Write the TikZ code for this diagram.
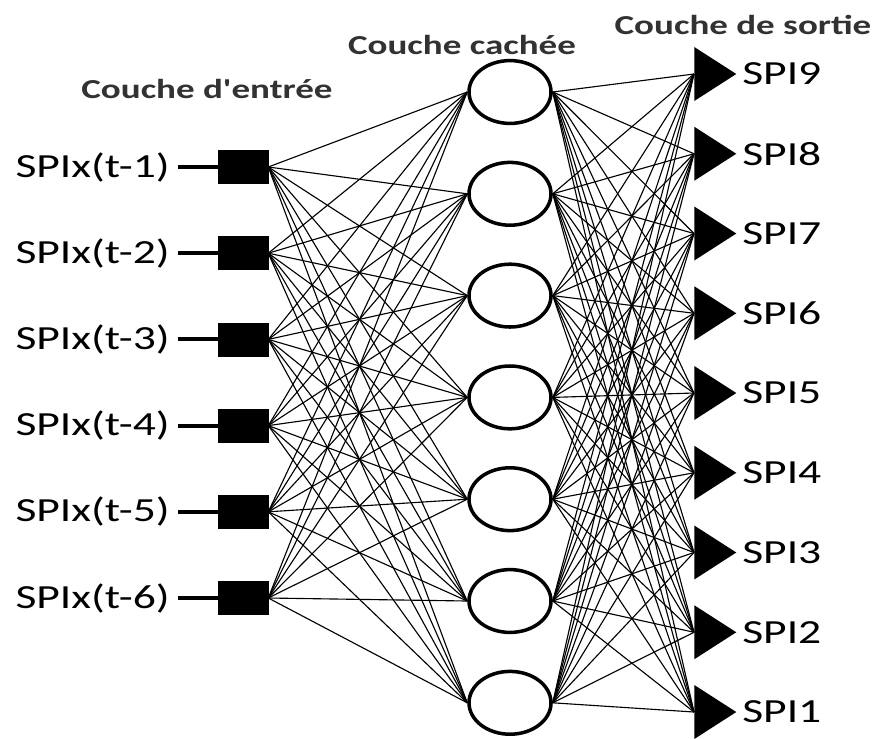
\documentclass[tikz,border=0pt]{standalone}
\usepackage{fontspec}
\usepackage{tikz}
\usetikzlibrary{shapes.geometric}
\usetikzlibrary{positioning}
\newfontfamily\lblfont[FakeStretch=1.35]{Carlito}
\definecolor{titlegray}{RGB}{50,50,50}
\tikzset{
    inbox/.style={draw, fill=black, minimum width=1.25cm, minimum height=0.825cm, inner sep=0pt},
    hidcell/.style={draw, ellipse, line width=2.5pt, minimum width=2.05cm, minimum height=1.57cm, inner sep=0pt},
    outtri/.style={isosceles triangle, isosceles triangle stretches, fill=black, minimum width=1.35cm, minimum height=1.05cm, inner sep=0pt},
    conn/.style={line width=0.8pt},
    spilabel/.style={font=\lblfont\fontsize{24}{28}\selectfont, inner sep=0pt},
    layertitle/.style={font=\lblfont\bfseries\fontsize{19.5}{23}\selectfont, text=titlegray, inner sep=0pt}
}

\begin{document}
\begin{tikzpicture}[x=0.025cm, y=-0.025cm]
    \useasboundingbox (0,0) rectangle (878,738);

    % Titles
    \node[layertitle] (tin) at (207,89) {Couche d'entrée};
    \node[layertitle] (thid) at (462,45) {Couche cachée};
    \node[layertitle] (tout) at (743,25) {Couche de sortie};

    % Input layer
    \foreach \i in {1,...,6} {
        \node[inbox] (in\i) at (243, {167 + (\i-1)*86.2}) {};
        \node[spilabel, anchor=east] (lin\i) at (170, {167 + (\i-1)*86.2}) {SPIx(t-\i)};
        \draw[line width=2.8pt] ([xshift=6pt]lin\i.east) -- (in\i.west);
    }

    % Hidden layer
    \foreach \j in {1,...,7}
        \node[hidcell] (hid\j) at (510, {92 + (\j-1)*101.8}) {};

    % Output layer
    \foreach \k in {1,...,9} {
        \node[outtri, anchor=apex] (out\k) at (737, {712 - (\k-1)*79.75}) {};
        \node[spilabel, anchor=west] (lout\k) at (742, {712 - (\k-1)*79.75}) {SPI\k};
    }

    % Connections
    \foreach \i in {1,...,6}
        \foreach \j in {1,...,7}
            \draw[conn] (in\i.east) -- (hid\j.west);
    \foreach \j in {1,...,7}
        \foreach \k in {1,...,9}
            \draw[conn] (hid\j.east) -- (out\k.west);
\end{tikzpicture}
\end{document}
